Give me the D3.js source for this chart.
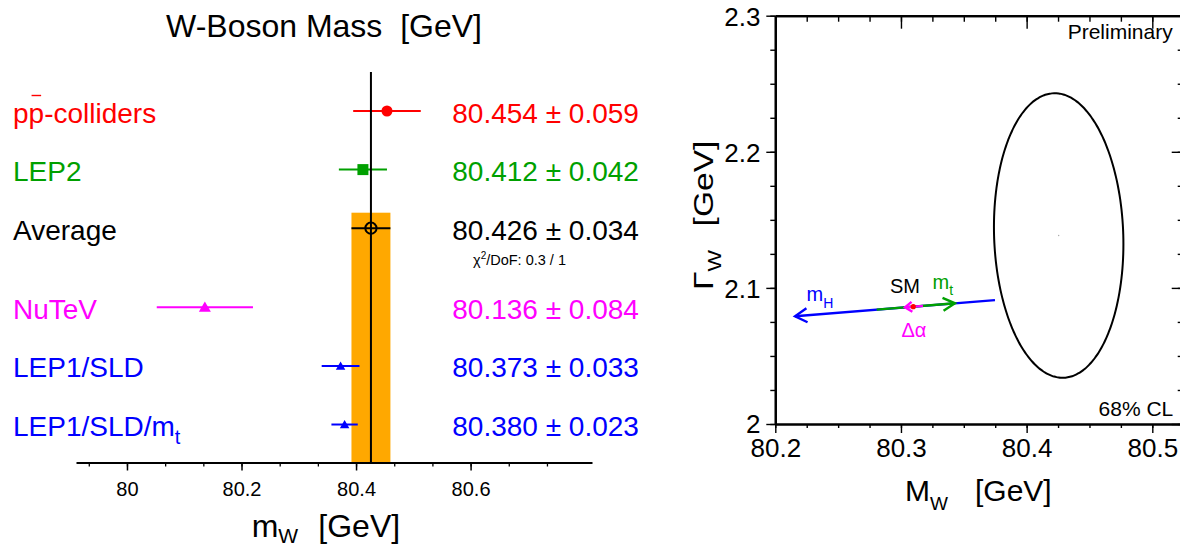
<!DOCTYPE html>
<html><head><meta charset="utf-8">
<script src="https://cdn.jsdelivr.net/npm/d3@7"></script>
<style>
html,body{margin:0;padding:0;background:#fff;}
svg{display:block;font-family:"Liberation Sans",Arial,Helvetica,sans-serif;}
text{white-space:pre;}
</style></head><body>
<svg id="c" width="1180" height="544"></svg>
<script>
// ---------------- DATA ----------------
const categories   = ["pp-colliders", "LEP2", "Average", "NuTeV", "LEP1/SLD", "LEP1/SLD/m"];
const categorySubs = ["", "", "", "", "", "t"];
const massValues   = [80.454, 80.412, 80.426, 80.136, 80.373, 80.380];
const massErrors   = [0.059, 0.042, 0.034, 0.084, 0.033, 0.023];
const valueLabels  = ["80.454 \u00b1 0.059", "80.412 \u00b1 0.042", "80.426 \u00b1 0.034",
                      "80.136 \u00b1 0.084", "80.373 \u00b1 0.033", "80.380 \u00b1 0.023"];
const seriesColors = ["#ff0000", "#00a000", "#000000", "#ff00ff", "#0000ff", "#0000ff"];
const markerShapes = ["circle", "square", "open", "triangle", "triangleSmall", "triangleSmall"];
const averageIndex = 2;
const chi2Label    = ["\u03c7", "2", "/DoF: 0.3 / 1"];
const mwTickLabels = [80, 80.2, 80.4, 80.6];

const mwTicksRight = [80.2, 80.3, 80.4, 80.5];
const gwTicks      = [2, 2.1, 2.2, 2.3];
const ellipseCenter = [80.4255, 2.1385];
const ellipseSigma  = [0.034, 0.069];
const ellipseRho    = -0.06;
const cl68Scale     = 1.515;
const smPoint       = [80.3098, 2.0862];
const mhSegment     = [[80.3748, 2.0910], [80.2157, 2.0792]];
const mtSegment     = [[80.2807, 2.0840], [80.3430, 2.0887]];
const alphaSegment  = [[80.3175, 2.0868], [80.3032, 2.0857]];

// ---------------- LEFT PANEL ----------------
const svg = d3.select("#c");
const xL = d3.scaleLinear().domain([79.911, 80.812]).range([76, 592]);
const axisYL = 462.5;
const rowY = d3.scaleLinear().domain([0, 1]).range([111, 169.6]);
const slots = categories.map((d, i) => i <= averageIndex ? i : i + 0.35);

svg.append("text").attr("x", 166).attr("y", 36.7).attr("font-size", 32)
  .text("W-Boson Mass  [GeV]");

// average band
const avg = massValues[averageIndex], avgErr = massErrors[averageIndex];
svg.append("rect")
  .attr("x", xL(avg - avgErr)).attr("width", xL(avg + avgErr) - xL(avg - avgErr))
  .attr("y", rowY(slots[averageIndex]) - 15.5)
  .attr("height", axisYL - (rowY(slots[averageIndex]) - 15.5))
  .attr("fill", "#ffa800");

// error bars
const gL = svg.append("g");
categories.forEach((c, i) => {
  const y = rowY(slots[i]);
  gL.append("line").attr("x1", xL(massValues[i] - massErrors[i])).attr("x2", xL(massValues[i] + massErrors[i]))
    .attr("y1", y).attr("y2", y).attr("stroke", seriesColors[i]).attr("stroke-width", 2);
});

// vertical average line
svg.append("line").attr("x1", xL(avg)).attr("x2", xL(avg)).attr("y1", 72).attr("y2", axisYL)
  .attr("stroke", "#000").attr("stroke-width", 2);

// markers
categories.forEach((c, i) => {
  const x = xL(massValues[i]), y = rowY(slots[i]);
  const s = markerShapes[i];
  let sym;
  if (s === "circle") sym = d3.symbol(d3.symbolCircle, Math.PI * 5.5 * 5.5);
  else if (s === "square") sym = d3.symbol(d3.symbolSquare, 121);
  else if (s === "triangle") sym = d3.symbol(d3.symbolTriangle, Math.sqrt(3) / 4 * 12 * 12);
  else if (s === "triangleSmall") sym = d3.symbol(d3.symbolTriangle, Math.sqrt(3) / 4 * 9.5 * 9.5);
  if (s === "open") {
    svg.append("circle").attr("cx", x).attr("cy", y).attr("r", 5.6)
      .attr("fill", "none").attr("stroke", seriesColors[i]).attr("stroke-width", 2);
  } else {
    svg.append("path").attr("d", sym()).attr("transform", `translate(${x},${y + (s.startsWith("triangle") ? 1 : 0)})`)
      .attr("fill", seriesColors[i]);
  }
});

// labels
categories.forEach((c, i) => {
  const y = rowY(slots[i]) + 11.5;
  const t = svg.append("text").attr("x", 13).attr("y", y).attr("font-size", 28).attr("fill", seriesColors[i]);
  t.append("tspan").text(c);
  if (categorySubs[i]) t.append("tspan").attr("font-size", 20).attr("dy", 8).text(categorySubs[i]);
  if (i === 0) {
    // anti-proton bar over the second "p"
    const fs = 28, pw = 0.556 * fs;
    svg.append("line").attr("x1", 13 + pw + 3).attr("x2", 13 + 2 * pw - 3)
      .attr("y1", y - 27).attr("y2", y - 27).attr("stroke", seriesColors[i]).attr("stroke-width", 1.4);
  }
  svg.append("text").attr("x", 452.3).attr("y", y).attr("font-size", 28).attr("fill", seriesColors[i])
    .text(valueLabels[i]);
});

// chi2
const ct = svg.append("text").attr("x", 473).attr("y", rowY(slots[averageIndex]) + 37).attr("font-size", 14.5);
ct.append("tspan").text(chi2Label[0]);
ct.append("tspan").attr("font-size", 10).attr("dy", -6).text(chi2Label[1]);
ct.append("tspan").attr("dy", 6).text(chi2Label[2]);

// x axis (left)
const minorL = d3.range(-1, 12).map(i => 80 + i * 0.2 / 3);
svg.append("g").attr("transform", `translate(0,${axisYL})`)
  .call(d3.axisBottom(xL).tickValues(minorL).tickSize(4).tickSizeOuter(0).tickFormat(""))
  .call(g => g.selectAll("line").attr("stroke-width", 1.3))
  .call(g => g.select(".domain").attr("stroke-width", 2.2));
svg.append("g").attr("transform", `translate(0,${axisYL})`)
  .call(d3.axisBottom(xL).tickValues(mwTickLabels).tickSize(8).tickSizeOuter(0).tickFormat(d3.format("")))
  .call(g => g.select(".domain").remove())
  .call(g => g.selectAll("line").attr("stroke-width", 1.5))
  .call(g => g.selectAll("text").attr("y", 33).attr("dy", 0).attr("font-size", 20)
              .attr("font-family", "Liberation Sans, Arial, sans-serif").attr("fill", "#000"));

const xlab = svg.append("text").attr("x", 251.7).attr("y", 537).attr("font-size", 32);
xlab.append("tspan").text("m");
xlab.append("tspan").attr("font-size", 21).attr("dy", 6).text("W");
xlab.append("tspan").attr("x", 318.3).attr("dy", -6).text("[GeV]");

// ---------------- RIGHT PANEL ----------------
const xR = d3.scaleLinear().domain([80.2, 80.5]).range([775.3, 1152.3]);
const yR = d3.scaleLinear().domain([2, 2.3]).range([424, 15.7]);
const xMaxR = 80.525;
const xRa = xR.copy().domain([80.2, xMaxR]).range([xR(80.2), xR(xMaxR)]);
const minorXR = d3.range(0, 14).map(i => 80.2 + i * 0.025);
const minorYR = d3.range(0, 13).map(i => 2 + i * 0.025);

function axisStyle(g) {
  g.select(".domain").attr("stroke-width", 2.2);
  g.selectAll("line").attr("stroke-width", 1.4);
}
// bottom
svg.append("g").attr("transform", `translate(0,${yR(2)})`)
  .call(d3.axisBottom(xRa).tickValues(minorXR).tickSize(4).tickSizeOuter(0).tickFormat("")).call(axisStyle);
svg.append("g").attr("transform", `translate(0,${yR(2)})`)
  .call(d3.axisBottom(xRa).tickValues(mwTicksRight).tickSize(9).tickSizeOuter(0).tickFormat(d3.format("")))
  .call(axisStyle)
  .call(g => g.selectAll("text").attr("y", 33).attr("dy", 0).attr("font-size", 26)
              .attr("font-family", "Liberation Sans, Arial, sans-serif").attr("fill", "#000"));
// top
svg.append("g").attr("transform", `translate(0,${yR(2.3)})`)
  .call(d3.axisTop(xRa).tickValues(minorXR).tickSize(-6).tickSizeOuter(0).tickFormat("")).call(axisStyle);
svg.append("g").attr("transform", `translate(0,${yR(2.3)})`)
  .call(d3.axisTop(xRa).tickValues(mwTicksRight).tickSize(-13).tickSizeOuter(0).tickFormat("")).call(axisStyle);
// left
svg.append("g").attr("transform", `translate(${xR(80.2)},0)`)
  .call(d3.axisLeft(yR).tickValues(minorYR).tickSize(5).tickSizeOuter(0).tickFormat("")).call(axisStyle);
svg.append("g").attr("transform", `translate(${xR(80.2)},0)`)
  .call(d3.axisLeft(yR).tickValues(gwTicks).tickSize(9).tickSizeOuter(0).tickFormat(d3.format("")))
  .call(axisStyle)
  .call(g => g.selectAll("text").attr("x", -14.8).attr("dy", d => d === 2 ? 8.5 : 10).attr("font-size", 26)
              .attr("font-family", "Liberation Sans, Arial, sans-serif").attr("fill", "#000"));
// right
svg.append("g").attr("transform", `translate(${xR(xMaxR)},0)`)
  .call(d3.axisRight(yR).tickValues(minorYR).tickSize(-6).tickSizeOuter(0).tickFormat("")).call(axisStyle);
svg.append("g").attr("transform", `translate(${xR(xMaxR)},0)`)
  .call(d3.axisRight(yR).tickValues(gwTicks).tickSize(-12).tickSizeOuter(0).tickFormat("")).call(axisStyle);

// ellipse (68% CL contour from centre, widths and correlation)
const angles = d3.range(0, 360, 2).map(a => a * Math.PI / 180);
const ell = angles.map(t => [
  ellipseCenter[0] + cl68Scale * ellipseSigma[0] * Math.cos(t),
  ellipseCenter[1] + cl68Scale * ellipseSigma[1] * (ellipseRho * Math.cos(t) + Math.sqrt(1 - ellipseRho * ellipseRho) * Math.sin(t))
]);
svg.append("path")
  .attr("d", d3.line().x(d => xR(d[0])).y(d => yR(d[1])).curve(d3.curveCardinalClosed)(ell))
  .attr("fill", "none").attr("stroke", "#000").attr("stroke-width", 2);
svg.append("circle").attr("cx", xR(ellipseCenter[0])).attr("cy", yR(ellipseCenter[1])).attr("r", 0.7).attr("fill", "#aaa");

// SM arrows
function arrow(seg, color, L, W) {
  const p0 = [xR(seg[0][0]), yR(seg[0][1])], p1 = [xR(seg[1][0]), yR(seg[1][1])];
  const dx = p1[0] - p0[0], dy = p1[1] - p0[1], len = Math.hypot(dx, dy);
  const ux = dx / len, uy = dy / len, nx = -uy, ny = ux;
  svg.append("line").attr("x1", p0[0]).attr("y1", p0[1]).attr("x2", p1[0]).attr("y2", p1[1])
    .attr("stroke", color).attr("stroke-width", 2.4);
  svg.append("path")
    .attr("d", `M${p1[0] - L * ux + W * nx},${p1[1] - L * uy + W * ny}L${p1[0]},${p1[1]}L${p1[0] - L * ux - W * nx},${p1[1] - L * uy - W * ny}`)
    .attr("fill", "none").attr("stroke", color).attr("stroke-width", 2.4);
}
arrow(mhSegment, "#0000ff", 12, 7);
arrow(mtSegment, "#00a000", 12, 6.5);
arrow(alphaSegment, "#ff00ff", 7, 5);
svg.append("circle").attr("cx", xR(smPoint[0])).attr("cy", yR(smPoint[1])).attr("r", 2.6).attr("fill", "#ff0000");

// SM labels
svg.append("text").attr("x", 890).attr("y", 293.3).attr("font-size", 20).text("SM");
const mtT = svg.append("text").attr("x", 932.5).attr("y", 289.3).attr("font-size", 20).attr("fill", "#00a000");
mtT.append("tspan").text("m"); mtT.append("tspan").attr("font-size", 14).attr("dy", 6).text("t");
const mhT = svg.append("text").attr("x", 806.5).attr("y", 300.7).attr("font-size", 20).attr("fill", "#0000ff");
mhT.append("tspan").text("m"); mhT.append("tspan").attr("font-size", 14).attr("dy", 7).text("H");
svg.append("text").attr("x", 901.5).attr("y", 336.5).attr("font-size", 20).attr("fill", "#ff00ff").text("\u0394\u03b1");

svg.append("text").attr("x", 1172.7).attr("y", 39).attr("font-size", 21).attr("text-anchor", "end").text("Preliminary");
svg.append("text").attr("x", 1173.3).attr("y", 415.7).attr("font-size", 21).attr("text-anchor", "end").text("68% CL");

// axis titles
const mwT = svg.append("text").attr("x", 905).attr("y", 501).attr("font-size", 30);
mwT.append("tspan").text("M");
mwT.append("tspan").attr("font-size", 19).attr("dy", 9).text("W");
mwT.append("tspan").attr("x", 975).attr("dy", -9).text("[GeV]");

const gT = svg.append("text").attr("transform", "translate(713,290) rotate(-90) scale(1.2,1)").attr("font-size", 28);
gT.append("tspan").text("\u0393");
gT.append("tspan").attr("font-size", 19).attr("dy", 8).text("W");
gT.append("tspan").attr("x", 53).attr("dy", -8).text("[GeV]");
</script>
</body></html>
